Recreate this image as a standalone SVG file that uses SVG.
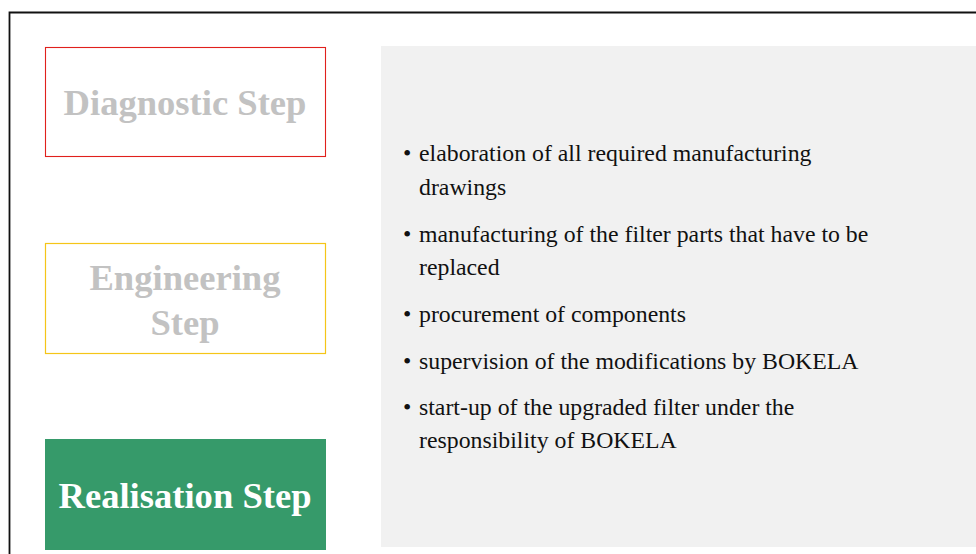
<svg xmlns="http://www.w3.org/2000/svg" width="976" height="554" viewBox="0 0 976 554">
  <style>
    .step { font-family: "Liberation Serif", "Times New Roman", serif; font-weight: bold; font-size: 36.6px; text-anchor: middle; }
    .muted { fill: #c2c2c2; }
    .active { fill: #ffffff; }
    .item { font-family: "Liberation Serif", "Times New Roman", serif; font-size: 23.8px; fill: #111111; }
  </style>
  <rect width="976" height="554" fill="#ffffff"/>
  <!-- outer frame, open at right and bottom -->
  <path d="M9.5,554 V12.5 H976" fill="none" stroke="#111111" stroke-width="1.8"/>

  <g id="diagnostic-step">
    <rect x="45.5" y="47.5" width="280" height="109" fill="#ffffff" stroke="#e0201c" stroke-width="1.1"/>
    <text class="step muted" x="185" y="115">Diagnostic Step</text>
  </g>

  <g id="engineering-step">
    <rect x="45.5" y="243.5" width="280" height="110" fill="#ffffff" stroke="#f5c518" stroke-width="1.2"/>
    <text class="step muted" x="185" y="290">Engineering</text>
    <text class="step muted" x="185" y="335">Step</text>
  </g>

  <g id="realisation-step">
    <rect x="45" y="439" width="281" height="111" fill="#369a6a"/>
    <text class="step active" x="185" y="508">Realisation Step</text>
  </g>

  <g id="details">
    <rect x="381" y="46" width="595" height="501" fill="#f1f1f1"/>
    <g class="item">
      <text x="403" y="161">•</text>
      <text x="419" y="161">elaboration of all required manufacturing</text>
      <text x="419" y="194.5">drawings</text>
      <text x="403" y="241.5">•</text>
      <text x="419" y="241.5">manufacturing of the filter parts that have to be</text>
      <text x="419" y="275">replaced</text>
      <text x="403" y="322">•</text>
      <text x="419" y="322">procurement of components</text>
      <text x="403" y="369">•</text>
      <text x="419" y="369">supervision of the modifications by BOKELA</text>
      <text x="403" y="415">•</text>
      <text x="419" y="415">start-up of the upgraded filter under the</text>
      <text x="419" y="448">responsibility of BOKELA</text>
    </g>
  </g>
</svg>
